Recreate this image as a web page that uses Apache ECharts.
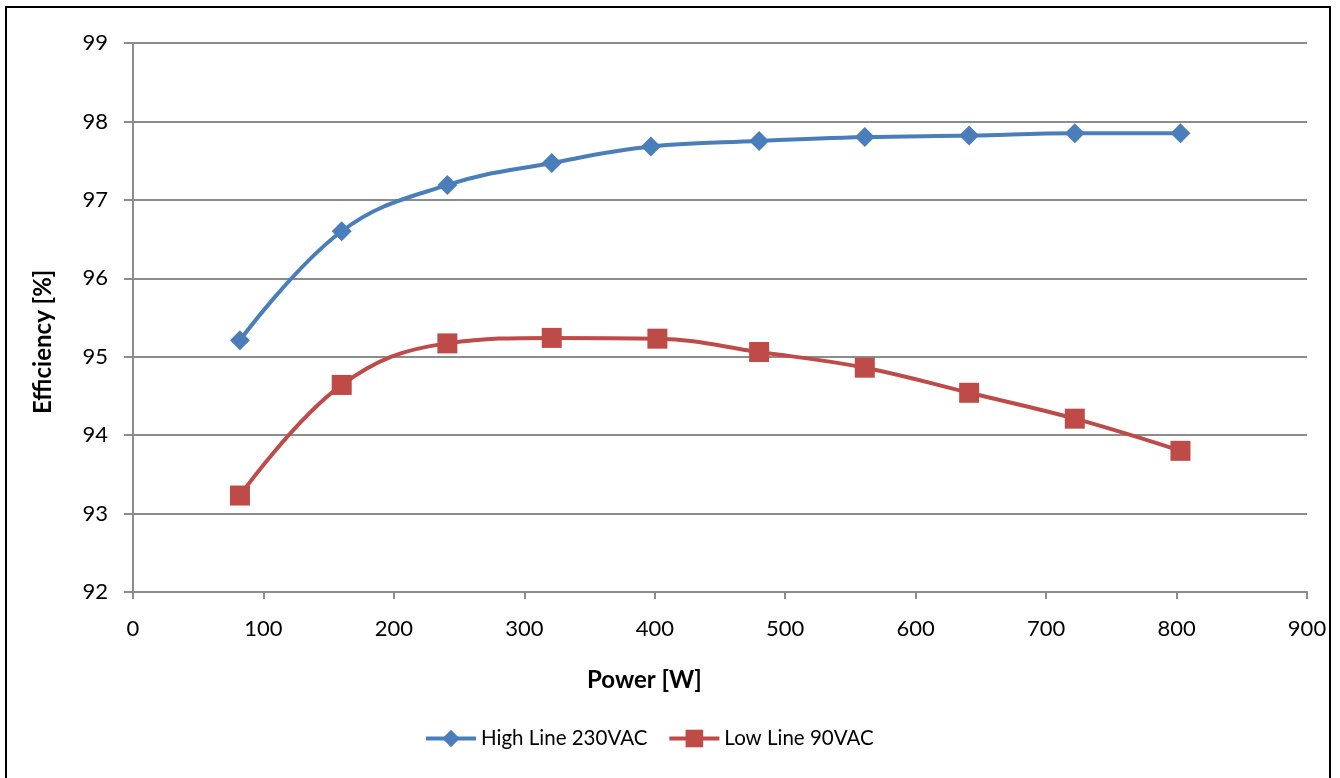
<!DOCTYPE html>
<html>
<head>
<meta charset="utf-8">
<script src="https://cdn.jsdelivr.net/npm/echarts@6/dist/echarts.min.js"></script>
<style>
  html, body { margin: 0; padding: 0; background: #fff; }
  #chart { width: 1340px; height: 778px; }
  .frame { position: absolute; left: 5px; top: 6px; width: 1322px; height: 800px; border: 2px solid #000; pointer-events: none; }
</style>
</head>
<body>
<div id="chart"></div>
<div class="frame"></div>
<script>
// efficiency vs output power
const highPower = [82, 160, 241, 321, 397, 480, 561, 641, 722, 803]
const highEff = [95.21, 96.6, 97.19, 97.47, 97.68, 97.75, 97.8, 97.82, 97.85, 97.85]
const lowPower = [82, 160, 241, 321, 402, 480, 561, 641, 722, 803]
const lowEff = [93.23, 94.64, 95.17, 95.24, 95.23, 95.06, 94.86, 94.54, 94.21, 93.8]
const seriesNames = ['High Line 230VAC', 'Low Line 90VAC']
const xTitle = 'Power [W]'
const yTitle = 'Efficiency [%]'

const font = 'Lato, "Open Sans", sans-serif'
const blue = '#4a7ebb'
const red = '#be4b48'
const gridColor = '#8c8c8c'

const chart = echarts.init(document.getElementById('chart'))

const option = {
  animation: false,
  textStyle: { fontFamily: font },
  grid: { left: 133, right: 33, top: 43, bottom: 186 },
  xAxis: {
    type: 'value',
    min: 0,
    max: 900,
    interval: 100,
    axisLine: { lineStyle: { color: gridColor, width: 2 } },
    axisTick: { show: true, length: 7, lineStyle: { color: gridColor, width: 2 } },
    axisLabel: { color: '#000', fontSize: 22, margin: 26, fontFamily: font },
    splitLine: { show: false },
  },
  yAxis: {
    type: 'value',
    min: 92,
    max: 99,
    interval: 1,
    axisLine: { show: true, lineStyle: { color: gridColor, width: 2 } },
    axisTick: { show: true, length: 9, lineStyle: { color: gridColor, width: 2 } },
    axisLabel: { color: '#000', fontSize: 22, margin: 25, fontFamily: font },
    splitLine: { lineStyle: { color: gridColor, width: 2 } },
  },
  legend: {
    bottom: 24,
    left: 419,
    itemWidth: 50,
    itemHeight: 22,
    itemGap: 20,
    lineStyle: { width: 4 },
    textStyle: { color: '#000', fontSize: 20.5, fontFamily: font },
    data: seriesNames,
  },
  graphic: [
    {
      type: 'text',
      left: 587,
      top: 668,
      style: { text: xTitle, font: 'bold 24px ' + font, fill: '#000' },
    },
    {
      type: 'text',
      rotation: Math.PI / 2,
      x: 31,
      y: 414,
      style: { text: yTitle, font: 'bold 24px ' + font, fill: '#000' },
    },
  ],
  series: [
    {
      name: seriesNames[0],
      type: 'line',
      smooth: 0.4,
      data: highPower.map((p, i) => [p, highEff[i]]),
      symbol: 'diamond',
      symbolSize: 20,
      lineStyle: { color: blue, width: 4 },
      itemStyle: { color: blue },
    },
    {
      name: seriesNames[1],
      type: 'line',
      smooth: 0.4,
      data: lowPower.map((p, i) => [p, lowEff[i]]),
      symbol: 'rect',
      symbolSize: 20,
      lineStyle: { color: red, width: 4 },
      itemStyle: { color: red },
    },
  ],
}

chart.setOption(option)
</script>
</body>
</html>
